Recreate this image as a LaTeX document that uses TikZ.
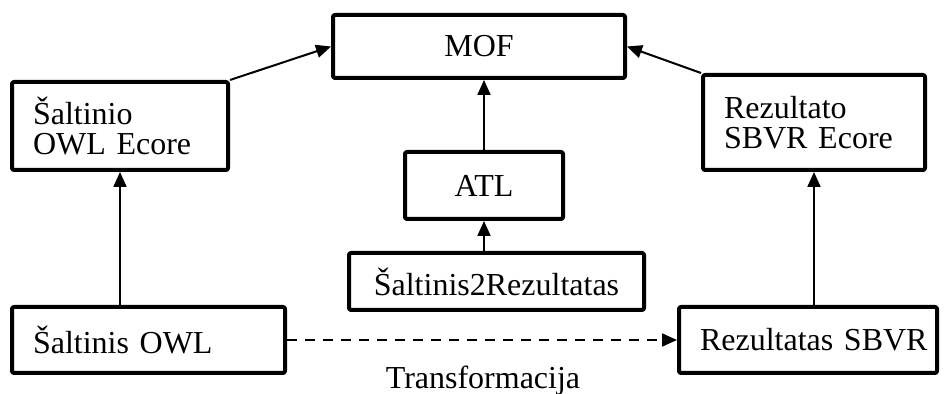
\documentclass[tikz,border=0pt]{standalone}
\usepackage{fontspec}
\setmainfont{Liberation Serif}
\usetikzlibrary{arrows.meta}
\tikzset{
  box/.style={draw, line width=2pt, rounded corners=1pt, inner xsep=10.5pt, inner ysep=0pt, font=\fontsize{16}{15}\selectfont},
  lbox/.style={box, align=left},
  link/.style={line width=1pt, ->},
}
\begin{document}
\begin{tikzpicture}[x=0.5pt, y=-0.5pt, line join=round, >={Triangle[length=7.5pt,width=6.5pt]}]
	\useasboundingbox (0,0) rectangle (944,394);
	\node[box, minimum width=146pt, minimum height=31.5pt] (mof) at (479,46.5) {MOF};
	\node[lbox, minimum width=108pt, minimum height=44pt, text width=87pt] (srcecore) at (120,126) {Šaltinio\\OWL Ecore};
	\node[lbox, minimum width=111pt, minimum height=47.5pt, text width=90pt] (tgtecore) at (814,122.5) {Rezultato\\SBVR Ecore};
	\node[box, minimum width=79pt, minimum height=33.5pt] (atl) at (484,185.5) {ATL};
	\node[box, minimum width=147.5pt, minimum height=28.5pt] (s2r) at (496.5,281.5) {Šaltinis2Rezultatas};
	\node[lbox, minimum width=136.5pt, minimum height=33pt, text width=115.5pt] (srcowl) at (148.5,340) {Šaltinis OWL};
	\node[lbox, minimum width=129pt, minimum height=33pt, text width=108pt] (tgtsbvr) at (808,340) {Rezultatas~SBVR};
	\node[font=\fontsize{16}{15}\selectfont, anchor=base, inner sep=0pt] (trans) at (483,389) {Transformacija};
	% meta-model links
	\draw[link] (srcecore.north east) -- (mof.west);
	\draw[link] (tgtecore.north west) -- (mof.east);
	\draw[link] (atl.north) -- (atl.north |- mof.south);
	\draw[link] (s2r.north -| atl.south) -- (atl.south);
	\draw[link] (srcowl.north -| srcecore.south) -- (srcecore.south);
	\draw[link] (tgtsbvr.north -| tgtecore.south) -- (tgtecore.south);
	% transformation
	\draw[link, dash pattern=on 5pt off 4pt] (srcowl.east) -- (tgtsbvr.west);
\end{tikzpicture}
\end{document}
